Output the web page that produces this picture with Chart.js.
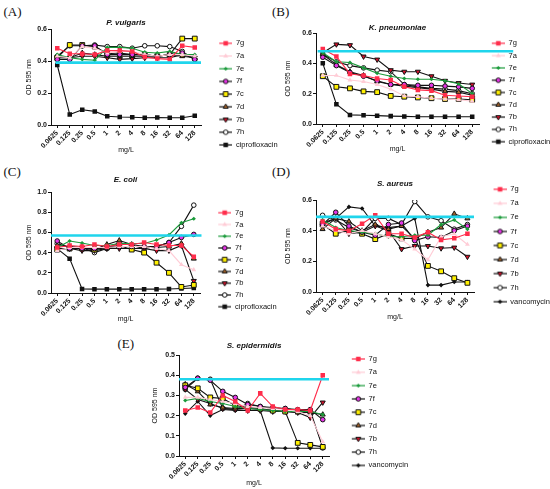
<!DOCTYPE html>
<html><head><meta charset="utf-8">
<script src="https://cdn.jsdelivr.net/npm/chart.js@4.4.1/dist/chart.umd.min.js"></script>
<style>
html,body{margin:0;padding:0;background:#fff;width:550px;height:489px;overflow:hidden;position:relative}
canvas{position:absolute}
.pl{position:absolute;font-family:"Liberation Serif","Times New Roman",serif;font-size:13px;line-height:13px;color:#111}
</style></head><body>
<div class="pl" style="left:3.5px;top:5px">(A)</div>
<div class="pl" style="left:272px;top:5px">(B)</div>
<div class="pl" style="left:3.5px;top:165px">(C)</div>
<div class="pl" style="left:272px;top:165px">(D)</div>
<div class="pl" style="left:117.5px;top:336.5px">(E)</div>
<script>
// ---------- data ----------
const CATS = ['0.0625','0.125','0.25','0.5','1','2','4','8','16','32','64','128'];
const COMPOUNDS = ['7g','7a','7e','7f','7c','7d','7b','7h'];

// (A) P. vulgaris
const pv_7g  = [0.48, 0.445, 0.445, 0.44, 0.465, 0.465, 0.46, 0.425, 0.415, 0.41, 0.495, 0.485];
const pv_7a  = [0.43, 0.42, 0.49, 0.48, 0.45, 0.46, 0.46, 0.44, 0.43, 0.44, 0.44, 0.43];
const pv_7e  = [0.44, 0.42, 0.41, 0.405, 0.485, 0.485, 0.48, 0.455, 0.45, 0.46, 0.44, 0.44];
const pv_7f  = [0.41, 0.41, 0.495, 0.495, 0.44, 0.44, 0.44, 0.44, 0.43, 0.44, 0.45, 0.41];
const pv_7c  = [0.42, 0.5, 0.5, 0.49, 0.445, 0.45, 0.44, 0.44, 0.43, 0.44, 0.54, 0.54];
const pv_7d  = [0.43, 0.42, 0.45, 0.44, 0.43, 0.43, 0.43, 0.43, 0.43, 0.44, 0.43, 0.42];
const pv_7b  = [0.42, 0.42, 0.43, 0.43, 0.42, 0.41, 0.415, 0.42, 0.42, 0.42, 0.44, 0.42];
const pv_7h  = [0.43, 0.495, 0.495, 0.5, 0.49, 0.49, 0.48, 0.495, 0.495, 0.49, 0.46, 0.41];
const pv_cip = [0.375, 0.065, 0.095, 0.085, 0.055, 0.05, 0.048, 0.045, 0.047, 0.045, 0.045, 0.058];
const pv_thr = 0.39;

// (B) K. pneumoniae
const kp_7g  = [0.495, 0.445, 0.33, 0.32, 0.3, 0.29, 0.245, 0.225, 0.22, 0.19, 0.185, 0.18];
const kp_7a  = [0.32, 0.32, 0.29, 0.28, 0.26, 0.23, 0.185, 0.18, 0.17, 0.165, 0.16, 0.15];
const kp_7e  = [0.47, 0.41, 0.405, 0.37, 0.335, 0.315, 0.3, 0.295, 0.295, 0.285, 0.265, 0.2];
const kp_7f  = [0.44, 0.385, 0.34, 0.315, 0.285, 0.26, 0.26, 0.255, 0.255, 0.25, 0.245, 0.235];
const kp_7c  = [0.315, 0.245, 0.235, 0.215, 0.21, 0.185, 0.18, 0.175, 0.17, 0.165, 0.165, 0.16];
const kp_7d  = [0.46, 0.39, 0.345, 0.32, 0.28, 0.26, 0.25, 0.24, 0.23, 0.215, 0.21, 0.19];
const kp_7b  = [0.47, 0.525, 0.52, 0.445, 0.425, 0.355, 0.345, 0.345, 0.315, 0.285, 0.27, 0.26];
const kp_7h  = [0.46, 0.41, 0.385, 0.37, 0.355, 0.345, 0.26, 0.245, 0.235, 0.23, 0.22, 0.2];
const kp_cip = [0.4, 0.13, 0.06, 0.058, 0.055, 0.052, 0.05, 0.048, 0.048, 0.048, 0.048, 0.048];
const kp_thr = 0.48;

// (C) E. coli
const ec_7g  = [0.45, 0.47, 0.46, 0.48, 0.46, 0.48, 0.48, 0.5, 0.48, 0.47, 0.47, 0.36];
const ec_7a  = [0.42, 0.45, 0.45, 0.45, 0.45, 0.46, 0.46, 0.46, 0.44, 0.42, 0.28, 0.23];
const ec_7e  = [0.45, 0.515, 0.495, 0.47, 0.47, 0.49, 0.49, 0.49, 0.525, 0.575, 0.695, 0.735];
const ec_7f  = [0.515, 0.44, 0.44, 0.44, 0.45, 0.46, 0.46, 0.46, 0.46, 0.5, 0.55, 0.58];
const ec_7c  = [0.43, 0.44, 0.44, 0.43, 0.45, 0.47, 0.43, 0.4, 0.3, 0.2, 0.06, 0.08];
const ec_7d  = [0.47, 0.46, 0.45, 0.43, 0.48, 0.52, 0.48, 0.46, 0.45, 0.46, 0.49, 0.34];
const ec_7b  = [0.44, 0.44, 0.42, 0.42, 0.44, 0.44, 0.44, 0.44, 0.42, 0.42, 0.47, 0.12];
const ec_7h  = [0.49, 0.45, 0.45, 0.4, 0.44, 0.5, 0.47, 0.44, 0.46, 0.5, 0.66, 0.87];
const ec_cip = [0.44, 0.34, 0.04, 0.038, 0.038, 0.038, 0.038, 0.038, 0.038, 0.04, 0.045, 0.05];
const ec_thr = 0.57;

// (D) S. aureus
const sa_7g  = [0.46, 0.41, 0.4, 0.445, 0.5, 0.38, 0.38, 0.355, 0.39, 0.34, 0.35, 0.38];
const sa_7a  = [0.43, 0.4, 0.38, 0.4, 0.38, 0.36, 0.34, 0.28, 0.21, 0.36, 0.38, 0.31];
const sa_7e  = [0.47, 0.42, 0.4, 0.39, 0.38, 0.36, 0.36, 0.37, 0.37, 0.44, 0.47, 0.41];
const sa_7f  = [0.44, 0.52, 0.43, 0.39, 0.37, 0.44, 0.45, 0.335, 0.36, 0.355, 0.4, 0.43];
const sa_7c  = [0.44, 0.38, 0.4, 0.38, 0.345, 0.38, 0.35, 0.35, 0.17, 0.135, 0.09, 0.06];
const sa_7d  = [0.41, 0.48, 0.46, 0.4, 0.44, 0.41, 0.43, 0.35, 0.39, 0.42, 0.51, 0.48];
const sa_7b  = [0.45, 0.48, 0.38, 0.39, 0.43, 0.4, 0.28, 0.3, 0.3, 0.285, 0.29, 0.23];
const sa_7h  = [0.5, 0.47, 0.42, 0.39, 0.48, 0.48, 0.44, 0.59, 0.49, 0.465, 0.41, 0.44];
const sa_van = [0.44, 0.48, 0.555, 0.545, 0.43, 0.42, 0.43, 0.48, 0.045, 0.045, 0.065, 0.065];
const sa_thr = 0.49;

// (E) S. epidermidis
const se_7g  = [0.225, 0.24, 0.215, 0.3, 0.27, 0.225, 0.31, 0.245, 0.23, 0.23, 0.225, 0.4];
const se_7a  = [0.29, 0.29, 0.28, 0.27, 0.26, 0.245, 0.24, 0.235, 0.23, 0.22, 0.2, 0.07];
const se_7e  = [0.275, 0.285, 0.27, 0.26, 0.245, 0.235, 0.23, 0.225, 0.22, 0.22, 0.22, 0.205];
const se_7f  = [0.34, 0.385, 0.375, 0.32, 0.29, 0.255, 0.245, 0.24, 0.235, 0.23, 0.23, 0.18];
const se_7c  = [0.35, 0.335, 0.29, 0.285, 0.25, 0.24, 0.235, 0.225, 0.22, 0.065, 0.055, 0.045];
const se_7d  = [0.355, 0.32, 0.255, 0.24, 0.235, 0.235, 0.23, 0.225, 0.22, 0.215, 0.215, 0.205];
const se_7b  = [0.33, 0.28, 0.26, 0.235, 0.23, 0.225, 0.225, 0.22, 0.22, 0.215, 0.19, 0.265];
const se_7h  = [0.33, 0.385, 0.38, 0.235, 0.23, 0.26, 0.245, 0.235, 0.235, 0.225, 0.225, 0.04];
const se_van = [0.21, 0.27, 0.2, 0.23, 0.225, 0.225, 0.225, 0.04, 0.038, 0.038, 0.038, 0.038];
const se_thr = 0.38;

// ---------- styles ----------
const FONT = '"Liberation Sans", Arial, Helvetica, sans-serif';
const INK = '#111';
const STY = {
  '7g': {line:'#FF2D4B', fill:'#FF2D4B', border:'#FF2D4B', shape:'rect', r:3.2, bw:0},
  '7a': {line:'#FFCCD6', fill:'#FFCCD6', border:'#FFCCD6', shape:'triangle', r:2.8, bw:0},
  '7e': {line:'#1A9A3A', fill:'#1A9A3A', border:'#1A9A3A', shape:'rectRot', r:2.1, bw:0},
  '7f': {line:INK, fill:'#E635E6', border:INK, shape:'circle', r:2.3, bw:1},
  '7c': {line:INK, fill:'#FFF000', border:INK, shape:'rect', r:3.4, bw:1},
  '7d': {line:INK, fill:'#A8642A', border:INK, shape:'triangle', r:2.9, bw:1},
  '7b': {line:INK, fill:'#D8102A', border:INK, shape:'triangle', rot:180, r:2.9, bw:1},
  '7h': {line:INK, fill:'#FFFFFF', border:INK, shape:'circle', r:2.3, bw:1},
  'ciprofloxacin': {line:INK, fill:INK, border:INK, shape:'rect', r:3.2, bw:0},
  'vancomycin': {line:INK, fill:INK, border:INK, shape:'rectRot', r:2.3, bw:0}
};

const PANELS = [
  {title:'P. vulgaris', drug:'ciprofloxacin', thr:pv_thr, yMax:0.6, yStep:0.2,
   series:[pv_7g,pv_7a,pv_7e,pv_7f,pv_7c,pv_7d,pv_7b,pv_7h,pv_cip],
   box:{L:51,R:201,T:29,B:125,titleY:22.7,yTitleX:29.3,xTitleY:150,legText:236,legFirst:43.3,legStep:12.7,cx:18,cy:8,cyan:[0.03,1.0]}},
  {title:'K. pneumoniae', drug:'ciprofloxacin', thr:kp_thr, yMax:0.6, yStep:0.2,
   series:[kp_7g,kp_7a,kp_7e,kp_7f,kp_7c,kp_7d,kp_7b,kp_7h,kp_cip],
   box:{L:316,R:479,T:33,B:124,titleY:27.7,yTitleX:288.3,xTitleY:149,legText:508.5,legFirst:43.3,legStep:12.3,cx:280,cy:8,cyan:[0.01,1.21]}},
  {title:'E. coli', drug:'ciprofloxacin', thr:ec_thr, yMax:1.0, yStep:0.2,
   series:[ec_7g,ec_7a,ec_7e,ec_7f,ec_7c,ec_7d,ec_7b,ec_7h,ec_cip],
   box:{L:51,R:200,T:192,B:293,titleY:179.3,yTitleX:29.3,xTitleY:319.3,legText:235,legFirst:212.7,legStep:11.75,cx:18,cy:168,cyan:[0,1.01]}},
  {title:'S. aureus', drug:'vancomycin', thr:sa_thr, yMax:0.6, yStep:0.2,
   series:[sa_7g,sa_7a,sa_7e,sa_7f,sa_7c,sa_7d,sa_7b,sa_7h,sa_van],
   box:{L:316,R:474,T:200,B:292,titleY:183.3,yTitleX:288.3,xTitleY:316.7,legText:510,legFirst:189.3,legStep:14.05,cx:280,cy:170,cyan:[0,1.0]}},
  {title:'S. epidermidis', drug:'vancomycin', thr:se_thr, yMax:0.5, yStep:0.1,
   series:[se_7g,se_7a,se_7e,se_7f,se_7c,se_7d,se_7b,se_7h,se_van],
   box:{L:179,R:329,T:355,B:456,titleY:346,yTitleX:155,xTitleY:482.7,legText:369,legFirst:359,legStep:13.3,cx:146,cy:334,cyan:[0,1.0]}}
];

function drawMarker(g, s, x, y) {
  g.fillStyle = s.fill; g.strokeStyle = s.border; g.lineWidth = s.bw || 0;
  const opt = {pointStyle:s.shape, radius:s.r, rotation:s.rot||0, borderWidth:s.bw||0};
  if (Chart.helpers && Chart.helpers.drawPoint) { Chart.helpers.drawPoint(g, opt, x, y); return; }
  g.beginPath();
  if (s.shape === 'circle') g.arc(x, y, s.r, 0, Math.PI*2);
  else { const h = s.r*Math.SQRT1_2; g.rect(x-h, y-h, 2*h, 2*h); }
  g.fill(); if (s.bw) g.stroke();
}

function makeIcon(s, w) {
  const c = document.createElement('canvas');
  c.width = w; c.height = 10;
  const g = c.getContext('2d');
  g.strokeStyle = s.line; g.lineWidth = 1.2;
  g.beginPath(); g.moveTo(w-13, 5); g.lineTo(w, 5); g.stroke();
  drawMarker(g, s, w-6.5, 5);
  return c;
}

function build(p) {
  const b = p.box;
  const FS = 7.5, P = b.legStep - FS;
  const BW = Math.round(b.legText - b.R - P - FS/2);
  const cw = Math.ceil(b.legText + 43 - b.cx);
  const bottom = Math.ceil(Math.max(b.legFirst + 8*b.legStep + 14, b.xTitleY + 7));
  const ch = bottom - b.cy;
  const cv = document.createElement('canvas');
  cv.width = cw; cv.height = ch;
  cv.style.left = b.cx + 'px'; cv.style.top = b.cy + 'px';
  cv.style.width = cw + 'px'; cv.style.height = ch + 'px';
  document.body.appendChild(cv);

  const names = COMPOUNDS.concat([p.drug]);
  const datasets = names.map((n, i) => {
    const s = STY[n];
    return {
      label:n, data:p.series[i], xAxisID:'x', yAxisID:'y',
      borderColor:s.line, borderWidth:1.1, backgroundColor:s.fill,
      pointStyle:s.shape, pointRadius:s.r, pointHoverRadius:s.r, pointRotation:s.rot||0,
      pointBackgroundColor:s.fill, pointBorderColor:s.border, pointBorderWidth:s.bw,
      tension:0, fill:false
    };
  });
  datasets.push({
    label:'thr', data:[{x:b.cyan[0], y:p.thr}, {x:b.cyan[1], y:p.thr}],
    xAxisID:'xc', yAxisID:'y', borderColor:'#1FD5EC', borderWidth:2.6,
    pointRadius:0, order:-1, clip:false, fill:false, tension:0
  });
  const icons = names.map(n => makeIcon(STY[n], BW));

  const titleLH = 8 * 1.2;
  const tTop = Math.max(0, b.titleY - b.cy - titleLH/2);
  const tBot = Math.max(0, b.T - b.cy - tTop - titleLH);
  const legTitleH = b.legFirst - b.cy - P - FS/2;
  const axisGrid = {display:true, offset:false, drawOnChartArea:false, drawTicks:true, tickLength:3, color:INK, lineWidth:1};
  const axisBorder = {display:true, color:INK, width:1};

  new Chart(cv, {
    type:'line',
    data:{labels:CATS, datasets},
    options:{
      responsive:false, animation:false, events:[],
      layout:{padding:0},
      plugins:{
        title:{display:true, text:p.title, fullSize:false, color:INK,
               font:{family:FONT, size:8, weight:'bold', style:'italic', lineHeight:1.2},
               padding:{top:tTop, bottom:tBot}},
        legend:{display:true, position:'right', align:'start', maxWidth: cw - (b.R - b.cx),
          title:{display:true, text:'', font:{size:1, lineHeight:1}, padding:{top:Math.max(0, legTitleH-1), bottom:0}},
          labels:{usePointStyle:true, pointStyleWidth:BW, padding:P, color:INK,
            font:{family:FONT, size:FS},
            generateLabels: () => names.map((n, i) => ({
              text:n, datasetIndex:i, pointStyle:icons[i], rotation:0,
              fillStyle:'#000', strokeStyle:'#000', lineWidth:0, hidden:false, fontColor:INK}))}},
        tooltip:{enabled:false}
      },
      scales:{
        x:{type:'category', offset:true, position:'bottom',
           grid:axisGrid, border:axisBorder,
           ticks:{autoSkip:false, minRotation:45, maxRotation:45, padding:1, color:INK,
                  font:{family:FONT, size:7, weight:'bold'}},
           title:{display:true, text:'mg/L', color:INK, font:{family:FONT, size:7, lineHeight:1},
                  padding:{top:0, bottom:Math.max(0, ch - (b.xTitleY - b.cy) - 3.5)}},
           afterFit: s => { s.height = ch - (b.B - b.cy); }},
        xc:{type:'linear', display:false, min:0, max:1},
        y:{type:'linear', position:'left', min:0, max:p.yMax,
           grid:axisGrid, border:axisBorder,
           ticks:{stepSize:p.yStep, padding:1, color:INK, font:{family:FONT, size:7, weight:'bold'},
                  callback: v => Number(v).toFixed(1)},
           title:{display:true, text:'OD 595 nm', color:INK, font:{family:FONT, size:7, lineHeight:1},
                  padding:{top:Math.max(0, b.yTitleX - b.cx - 3.5), bottom:0}},
           afterFit: s => { s.width = b.L - b.cx; }}
      }
    }
  });
}

PANELS.forEach(build);
</script>
</body></html>
